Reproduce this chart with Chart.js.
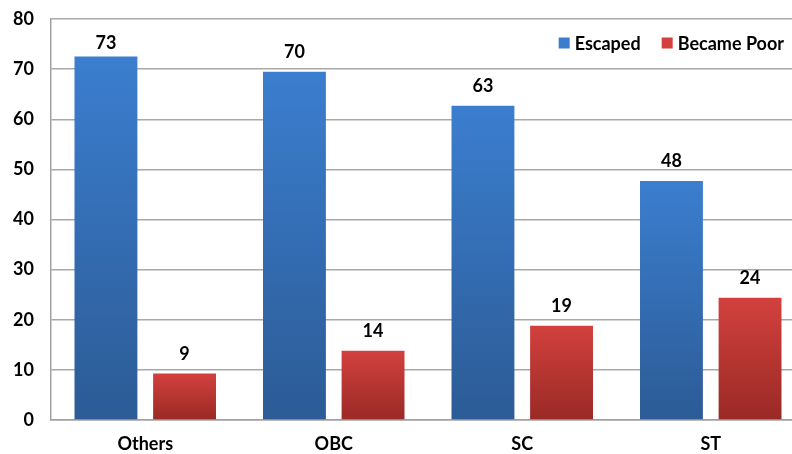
<!DOCTYPE html>
<html>
<head>
<meta charset="utf-8">
<script src="https://cdn.jsdelivr.net/npm/chart.js@4.4.0/dist/chart.umd.min.js"></script>
<style>
  html, body { margin: 0; padding: 0; background: #fff; overflow: hidden; }
  #wrap { width: 805px; height: 454px; }
</style>
</head>
<body>
<div id="wrap"><canvas id="chart"></canvas></div>
<script>
// Chart data
const categories = ['Others', 'OBC', 'SC', 'ST'];
const escaped = [72.5, 69.5, 62.7, 47.7];
const becamePoor = [9.3, 13.8, 18.8, 24.4];
const seriesNames = ['Escaped', 'Became Poor'];

const FONT = 'Lato, "Liberation Sans", sans-serif';

// Top / bottom colours of each series' gradient
const blueStops = ['#3b7ecf', '#2c5b95'];
const redStops = ['#d2413d', '#9a2926'];

/**
 * Vertical gradient from the top of the bar down to the zero line
 */
function barGradient(stops) {
  return (ctx) => {
    const { chart } = ctx;
    if (!chart.chartArea || ctx.type !== 'data') return stops[0];
    const y = chart.scales.y;
    const value = ctx.dataset.data[ctx.dataIndex];
    const g = chart.ctx.createLinearGradient(0, y.getPixelForValue(value), 0, y.getPixelForValue(0));
    g.addColorStop(0, stops[0]);
    g.addColorStop(1, stops[1]);
    return g;
  };
}

// Rounded value above each bar (kept below the legend row)
const valueLabels = {
  id: 'valueLabels',
  afterDatasetsDraw(chart) {
    const { ctx, chartArea } = chart;
    ctx.save();
    ctx.font = 'bold 18px ' + FONT;
    ctx.fillStyle = '#000';
    ctx.textAlign = 'center';
    ctx.textBaseline = 'alphabetic';
    chart.data.datasets.forEach((ds, i) => {
      chart.getDatasetMeta(i).data.forEach((bar, j) => {
        const y = Math.max(bar.y - 13.5, chartArea.top + 30);
        ctx.fillText(Math.round(ds.data[j]), bar.x, y);
      });
    });
    ctx.restore();
  },
};

// Legend drawn inside the plot, top right
const insideLegend = {
  id: 'insideLegend',
  afterDraw(chart) {
    const { ctx } = chart;
    const colors = [blueStops[0], redStops[0]];
    ctx.save();
    ctx.font = 'bold 18px ' + FONT;
    ctx.textBaseline = 'middle';
    ctx.textAlign = 'left';
    const box = 11;
    const gapBox = 5;
    const gapItem = 21;
    const widths = seriesNames.map((n) => ctx.measureText(n).width);
    let total = 0;
    widths.forEach((w, i) => { total += box + gapBox + w + (i ? gapItem : 0); });
    let x = 784 - total;
    const yMid = 43;
    seriesNames.forEach((name, i) => {
      ctx.fillStyle = colors[i];
      ctx.fillRect(x, yMid - box / 2, box, box);
      x += box + gapBox;
      ctx.fillStyle = '#000';
      ctx.fillText(name, x, yMid + 1);
      x += widths[i] + gapItem;
    });
    ctx.restore();
  },
};

const chart = new Chart(document.getElementById('chart').getContext('2d'), {
  type: 'bar',
  data: {
    labels: categories,
    datasets: [
      {
        label: seriesNames[0],
        data: escaped,
        backgroundColor: barGradient(blueStops),
        categoryPercentage: 0.834,
        barPercentage: 0.8,
      },
      {
        label: seriesNames[1],
        data: becamePoor,
        backgroundColor: barGradient(redStops),
        categoryPercentage: 0.834,
        barPercentage: 0.8,
      },
    ],
  },
  options: {
    responsive: true,
    maintainAspectRatio: false,
    animation: false,
    layout: { padding: { top: 19, right: 0, left: 0, bottom: 0 } },
    plugins: {
      legend: { display: false },
      tooltip: { enabled: false },
    },
    scales: {
      x: {
        grid: { display: false, drawTicks: false },
        border: { color: '#a0a0a0', width: 1.5 },
        ticks: {
          color: '#000',
          font: { family: FONT, size: 18, weight: 'bold' },
          padding: 13,
        },
        afterFit: (s) => { s.height = 34; s.paddingLeft = 0; s.paddingRight = 0; },
      },
      y: {
        min: 0,
        max: 80,
        grid: { color: '#a8a8a8', lineWidth: 1.5, drawTicks: false },
        border: { color: '#a0a0a0', width: 1.5 },
        ticks: {
          stepSize: 10,
          color: '#000',
          font: { family: FONT, size: 18, weight: 'bold' },
          padding: 17,
        },
        afterFit: (s) => { s.width = 51; s.paddingTop = 0; s.paddingBottom = 0; },
      },
    },
  },
  plugins: [valueLabels, insideLegend],
});
</script>
</body>
</html>
